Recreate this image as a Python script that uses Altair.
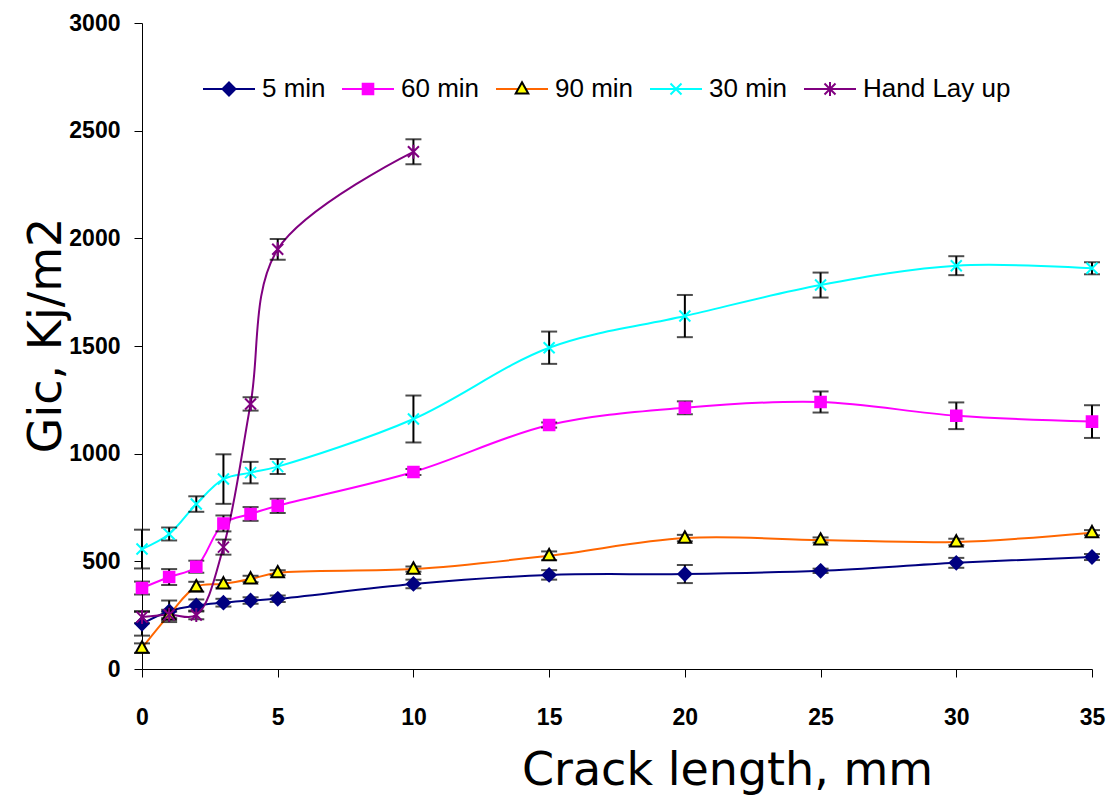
import altair as alt
import pandas as pd

# ---- data ----
crack = [0, 1, 2, 3, 4, 5, 10, 15, 20, 25, 30, 35]
crack_hand = [0, 1, 2, 3, 4, 5, 10]

series_names = ["5 min", "60 min", "90 min", "30 min", "Hand Lay up"]

g_5min = [210, 268, 295, 308, 318, 326, 395, 437, 441, 456, 493, 520]
e_5min = [55, 50, 28, 18, 15, 15, 20, 22, 42, 10, 23, 14]

g_60min = [376, 427, 475, 676, 720, 758, 915, 1133, 1213, 1240, 1176, 1149]
e_60min = [30, 37, 28, 37, 32, 33, 14, 12, 30, 49, 62, 76]

g_90min = [97, 251, 382, 395, 418, 447, 464, 526, 608, 599, 590, 633]
e_90min = [22, 15, 23, 18, 15, 12, 12, 20, 15, 12, 15, 12]

g_30min = [557, 627, 766, 882, 912, 940, 1161, 1492, 1639, 1783, 1873, 1861]
e_30min = [90, 30, 36, 115, 50, 35, 109, 75, 98, 58, 44, 28]

g_hand = [241, 252, 251, 566, 1231, 1949, 2402]
e_hand = [28, 23, 20, 35, 31, 48, 58]

x_ticks = [0, 5, 10, 15, 20, 25, 30, 35]
y_ticks = [0, 500, 1000, 1500, 2000, 2500, 3000]

# ---- styles ----
line_colors = ["#000080", "#FF00FF", "#FF6600", "#00FFFF", "#800080"]
marker_fill = ["#000080", "#FF00FF", "#FFFF00", "transparent", "transparent"]
marker_stroke = ["#000080", "#FF00FF", "#000000", "#00FFFF", "#800080"]

R = 26.0  # symbol radius in px for size 2704 (legend line length 52)
SYM_SIZE = int((2 * R) ** 2)


def P(x, y):
    return f"{x / R:.4f},{y / R:.4f}"


ext = " M-1,0Z M1,0Z"  # invisible extent so legend entries line up
shape_paths = [
    "M" + P(0, -6.5) + "L" + P(6.5, 0) + "L" + P(0, 6.5) + "L" + P(-6.5, 0) + "Z" + ext,
    "M" + P(-5.3, -5.3) + "L" + P(5.3, -5.3) + "L" + P(5.3, 5.3) + "L" + P(-5.3, 5.3) + "Z" + ext,
    "M" + P(0, -6.8) + "L" + P(6.3, 4.6) + "L" + P(-6.3, 4.6) + "Z" + ext,
    "M" + P(-5.5, -5.5) + "L" + P(5.5, 5.5) + "M" + P(-5.5, 5.5) + "L" + P(5.5, -5.5) + ext,
    "M" + P(-5.5, -5.5) + "L" + P(5.5, 5.5) + "M" + P(-5.5, 5.5) + "L" + P(5.5, -5.5)
    + "M" + P(0, -7) + "L" + P(0, 7) + ext,
]

rows = []
for i, (name, xs, vals, errs) in enumerate([
    ("5 min", crack, g_5min, e_5min),
    ("60 min", crack, g_60min, e_60min),
    ("90 min", crack, g_90min, e_90min),
    ("30 min", crack, g_30min, e_30min),
    ("Hand Lay up", crack_hand, g_hand, e_hand),
]):
    for x, v, e in zip(xs, vals, errs):
        rows.append({"series": name, "name": name, "order": i, "x": x, "y": v,
                     "lo": v - e, "hi": v + e})
df = pd.DataFrame(rows)

xscale = alt.Scale(domain=[0, 35], nice=False, zero=False)
yscale = alt.Scale(domain=[0, 3000], nice=False)

common_axis = dict(grid=False, domainColor="black", tickColor="black", labelColor="black",
                   titleColor="black", tickSize=8, domainWidth=1, tickWidth=1,
                   labelFont="Liberation Sans", labelFontSize=23, labelFontWeight="bold",
                   titleFont="DejaVu Sans", titleFontSize=46, titleFontWeight="normal",
                   labelFlush=False, format="d")

x_axis = alt.Axis(values=x_ticks, title="Crack length, mm", labelPadding=29,
                  titleX=585, titleY=115, titleAlign="center", titleBaseline="alphabetic",
                  **common_axis)
y_axis = alt.Axis(values=y_ticks, title="Gic, Kj/m2", labelPadding=14,
                  titleAngle=270, titleX=-82, titleY=312, titleAlign="center",
                  titleBaseline="alphabetic", **common_axis)

X = alt.X("x:Q", scale=xscale, axis=x_axis)
Y = alt.Y("y:Q", scale=yscale, axis=y_axis)

legend_common = dict(orient="none", legendX=60, legendY=39, direction="horizontal",
                     title=None, padding=0, symbolSize=SYM_SIZE, symbolStrokeWidth=2,
                     labelFont="Liberation Sans", labelFontSize=26,
                     labelColor="black", labelOffset=6, columnPadding=12, labelLimit=400)

lines = alt.Chart().mark_line(interpolate="catmull-rom", strokeWidth=2).encode(
    x=X, y=Y,
    color=alt.Color("series:N", sort=alt.EncodingSortField(field="order", op="min"),
                    scale=alt.Scale(range=line_colors),
                    legend=alt.Legend(symbolType="stroke", labelOpacity=0, **legend_common)),
)

errbars = alt.Chart().mark_errorbar(ticks=True, size=16, thickness=2, color="black").encode(
    x=alt.X("x:Q", scale=xscale, axis=x_axis),
    y=alt.Y("lo:Q", scale=yscale, axis=y_axis),
    y2="hi:Q",
    detail="series:N",
)

sort_b = alt.EncodingSortField(field="order", op="min")
points = alt.Chart().mark_point(size=SYM_SIZE, strokeWidth=2, opacity=1).encode(
    x=X, y=Y,
    shape=alt.Shape("name:N", sort=sort_b, scale=alt.Scale(range=shape_paths),
                    legend=alt.Legend(**legend_common)),
    fill=alt.Fill("name:N", sort=sort_b, scale=alt.Scale(range=marker_fill),
                  legend=alt.Legend(**legend_common)),
    stroke=alt.Stroke("name:N", sort=sort_b, scale=alt.Scale(range=marker_stroke),
                      legend=alt.Legend(**legend_common)),
)

chart = alt.layer(lines, errbars, points, data=df).properties(
    width=950, height=646,
    padding={"left": 134, "top": 15, "right": 14, "bottom": 127},
    autosize=alt.AutoSizeParams(type="none"),
    background="white",
).configure_view(strokeWidth=0)

chart.save("out.html", embed_options={"renderer": "svg", "actions": False})
